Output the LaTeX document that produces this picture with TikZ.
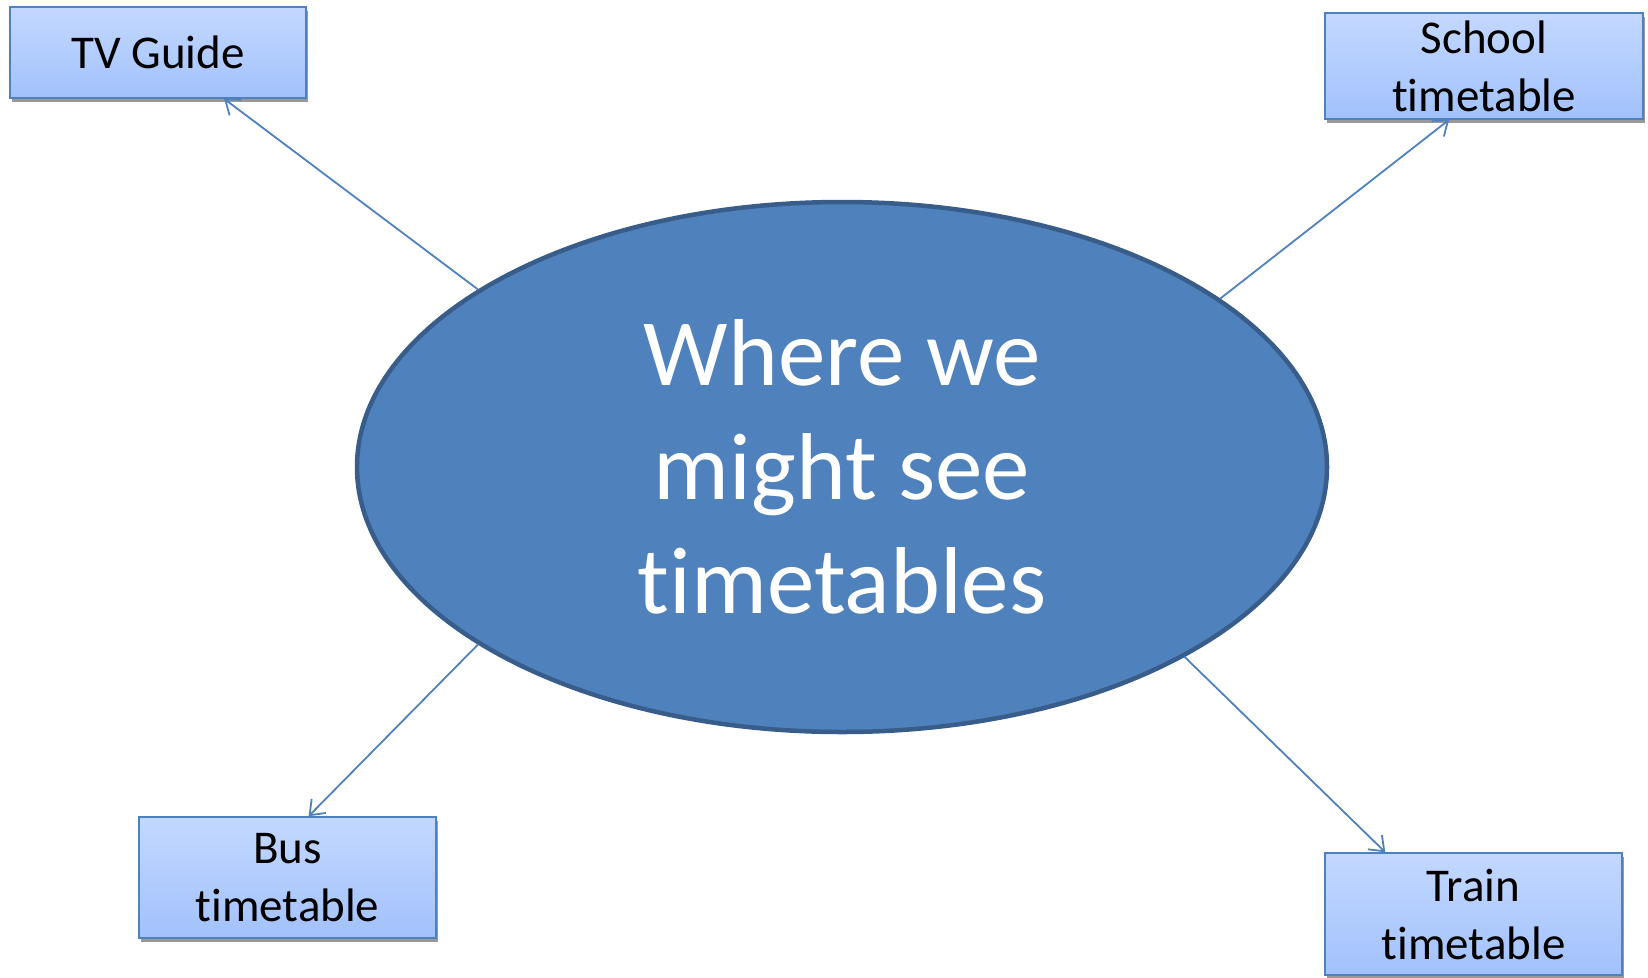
\documentclass[tikz,border=0pt]{standalone}
\usepackage{fontspec}
\setmainfont[Ligatures={NoCommon,NoRare}]{Carlito}
\usetikzlibrary{arrows.meta,shadows,shapes.geometric}
\definecolor{accent}{HTML}{4F81BD}
\definecolor{accentdark}{HTML}{385D8A}
\definecolor{boxtop}{HTML}{C3D8FF}
\definecolor{boxbot}{HTML}{A2C1FC}
\tikzset{
  hub/.style={ellipse, fill=accent, draw=accentdark, line width=4.5pt,
    minimum width=970pt, minimum height=530pt, inner sep=0pt,
    text=white, align=center, font=\fontsize{95}{114}\selectfont},
  leaf/.style={rectangle, draw=accent, line width=1.5pt,
    top color=boxtop, bottom color=boxbot, inner sep=0pt,
    align=center, font=\fontsize{47}{58}\selectfont,
    drop shadow={shadow xshift=2pt, shadow yshift=-4pt, fill=black!40, opacity=1}},
  link/.style={draw=accent, line width=1.8pt, -{Straight Barb[length=13pt,width=20pt]}}
}
\begin{document}
\begin{tikzpicture}[x=1pt,y=-1pt]
  \useasboundingbox (0,0) rectangle (1648,977);
  \node[hub] (hub) at (842,467) {Where we\\might see\\timetables};
  \node[leaf, minimum width=296pt, minimum height=91pt] (tv) at (158,52.5) {TV Guide};
  \node[leaf, minimum width=318pt, minimum height=106pt] (school) at (1484,66) {School\\timetable};
  \node[leaf, minimum width=297pt, minimum height=121pt] (bus) at (287.5,877.5) {Bus\\timetable};
  \node[leaf, minimum width=297pt, minimum height=122pt] (train) at (1473.5,914) {Train\\timetable};
  \draw[link] (hub.154.3) -- (tv.-35);
  \draw[link] (hub.24.5) -- (school.237);
  \draw[link] (hub.206.8) -- (bus.71.3);
  \draw[link] (hub.331.5) -- (train.145.4);
\end{tikzpicture}
\end{document}
